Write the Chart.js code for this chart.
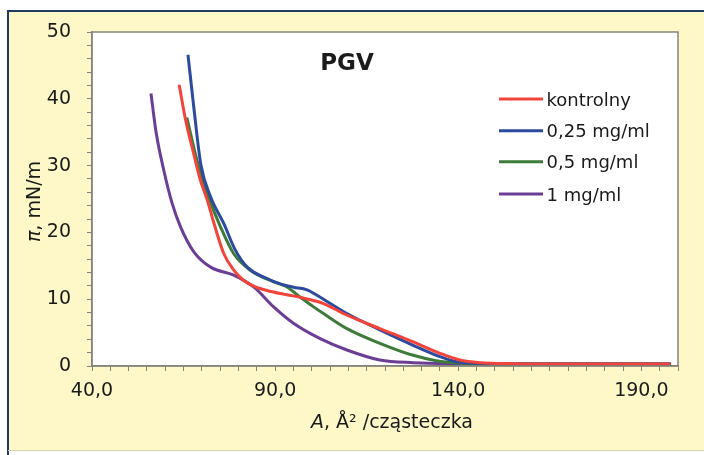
<!DOCTYPE html>
<html>
<head>
<meta charset="utf-8">
<script src="https://cdn.jsdelivr.net/npm/chart.js@4.4.1/dist/chart.umd.min.js"></script>
<style>
html,body{margin:0;padding:0;background:#ffffff;}
canvas{display:block;}
</style>
</head>
<body>
<canvas id="c" width="704" height="455"></canvas>
<script>
// ---- data ----
const chartTitle = "PGV";
const seriesNames = ["kontrolny", "0,25 mg/ml", "0,5 mg/ml", "1 mg/ml"];
const seriesColors = ["#f2443a", "#2c4a9e", "#3d7b39", "#6a3e95"];

const kontrolnyX = [63.8, 65.5, 67.8, 69.5, 71.5, 73.5, 76.0, 78.5, 81.4, 84.5, 87.8, 91.4, 95.0, 99.0, 103.2, 109.6, 118.6, 127.7, 135.0, 140.4, 145.9, 155, 170, 185, 198];
const kontrolnyY = [42.1, 37.0, 31.7, 28.0, 24.8, 21.0, 16.8, 14.5, 12.8, 11.9, 11.3, 10.85, 10.5, 10.0, 9.35, 7.6, 5.6, 3.6, 1.9, 0.9, 0.5, 0.35, 0.3, 0.3, 0.3];

const c025X = [66.2, 67.8, 69.7, 72.4, 76.0, 79.0, 82.4, 87.8, 91.4, 95.0, 98.7, 102.3, 109.6, 118.6, 127.7, 135.0, 139.5, 145, 160, 198];
const c025Y = [46.6, 38.7, 30.2, 25.3, 21.3, 17.5, 14.8, 13.1, 12.3, 11.8, 11.4, 10.3, 7.85, 5.4, 3.1, 1.4, 0.65, 0.4, 0.3, 0.3];

const c05X = [65.9, 68.7, 71.5, 75.1, 78.7, 83.3, 89.6, 93.0, 96.9, 100.5, 103.2, 109.6, 118.6, 127.7, 134.0, 140, 150, 198];
const c05Y = [37.2, 30.7, 25.8, 20.8, 16.8, 14.3, 12.6, 11.9, 10.3, 8.85, 7.85, 5.6, 3.4, 1.6, 0.8, 0.45, 0.3, 0.3];

const c1X = [56.1, 57.5, 59.6, 61.8, 64.2, 67.8, 72.4, 78.7, 84.2, 89.6, 95.0, 102.3, 109.6, 118.6, 127.7, 140, 160, 198];
const c1Y = [40.8, 35.0, 29.3, 24.5, 20.8, 17.1, 14.8, 13.6, 11.8, 8.85, 6.4, 4.1, 2.4, 0.9, 0.5, 0.35, 0.3, 0.3];

const xMin = 40, xMax = 200, xMajor = 50, xMinor = 5;
const yMin = 0, yMax = 50, yMajor = 10, yMinor = 2;
const xTitleItalic = "A";
const xTitleRest = ", Å² /cząsteczka";
const yTitleItalic = "π";
const yTitleRest = ", mN/m";

function pts(xs, ys){ return xs.map((x,i)=>({x:x, y:ys[i]})); }
const seriesData = [pts(kontrolnyX,kontrolnyY), pts(c025X,c025Y), pts(c05X,c05Y), pts(c1X,c1Y)];

const FONT = "'DejaVu Sans', sans-serif";
const AXIS_COL = "#85857a";

const decorPlugin = {
  id: 'decor',
  beforeDraw(chart){
    const ctx = chart.ctx, a = chart.chartArea;
    ctx.save();
    ctx.fillStyle = '#ffffff';
    ctx.fillRect(0,0,chart.width,chart.height);
    // yellow panel
    ctx.fillStyle = '#fef8c8';
    ctx.fillRect(8, 11, chart.width-8, 439);
    ctx.strokeStyle = '#1f3a5e';
    ctx.lineWidth = 2;
    ctx.beginPath();
    ctx.moveTo(8, 455); ctx.lineTo(8, 11); ctx.lineTo(chart.width, 11);
    ctx.stroke();
    ctx.strokeStyle = '#d8d4b0';
    ctx.lineWidth = 1;
    ctx.beginPath(); ctx.moveTo(8, 450.5); ctx.lineTo(chart.width, 450.5); ctx.stroke();
    // plot area
    ctx.fillStyle = '#ffffff';
    ctx.fillRect(a.left, a.top, a.right-a.left, a.bottom-a.top);
    ctx.restore();
  },
  afterDraw(chart){
    const ctx = chart.ctx, a = chart.chartArea;
    ctx.save();
    ctx.strokeStyle = AXIS_COL;
    ctx.lineWidth = 1.5;
    ctx.strokeRect(a.left, a.top, a.right-a.left, a.bottom-a.top);
    // title
    ctx.fillStyle = '#1a1a1a';
    ctx.font = "bold 23px " + FONT;
    ctx.textAlign = 'center';
    ctx.textBaseline = 'alphabetic';
    ctx.fillText(chartTitle, 347, 70);
    // x title
    ctx.font = "italic 19px " + FONT;
    const w1 = ctx.measureText(xTitleItalic).width;
    ctx.font = "19px " + FONT;
    const w2 = ctx.measureText(xTitleRest).width;
    let sx = 392 - (w1+w2)/2;
    ctx.textAlign = 'left';
    ctx.font = "italic 19px " + FONT;
    ctx.fillText(xTitleItalic, sx, 428);
    ctx.font = "19px " + FONT;
    ctx.fillText(xTitleRest, sx + w1, 428);
    // y title
    ctx.translate(40, 201.5);
    ctx.rotate(-Math.PI/2);
    ctx.font = "italic 19px " + FONT;
    const v1 = ctx.measureText(yTitleItalic).width;
    ctx.font = "19px " + FONT;
    const v2 = ctx.measureText(yTitleRest).width;
    let sy = -(v1+v2)/2;
    ctx.font = "italic 19px " + FONT;
    ctx.fillText(yTitleItalic, sy, 0);
    ctx.font = "19px " + FONT;
    ctx.fillText(yTitleRest, sy + v1, 0);
    ctx.setTransform(1,0,0,1,0,0);
    // legend
    const ly = [99, 130.7, 161.8, 194];
    ctx.font = "18px " + FONT;
    ctx.textAlign = 'left';
    ctx.textBaseline = 'alphabetic';
    seriesNames.forEach((n,i)=>{
      ctx.strokeStyle = seriesColors[i];
      ctx.lineWidth = 3;
      ctx.beginPath(); ctx.moveTo(499, ly[i]); ctx.lineTo(543, ly[i]); ctx.stroke();
      ctx.fillStyle = '#1a1a1a';
      ctx.fillText(n, 546.5, ly[i] + 6.5);
    });
    ctx.restore();
  }
};

new Chart(document.getElementById('c'), {
  type: 'line',
  data: {
    datasets: seriesData.map((d,i)=>({
      label: seriesNames[i],
      data: d,
      borderColor: seriesColors[i],
      backgroundColor: seriesColors[i],
      borderWidth: 3,
      pointRadius: 0,
      fill: false,
      cubicInterpolationMode: 'monotone'
    }))
  },
  options: {
    responsive: false,
    animation: false,
    devicePixelRatio: 1,
    layout: { padding: { left: 0, right: 26, top: 32, bottom: 0 } },
    plugins: { legend: { display: false }, title: { display: false }, tooltip: { enabled: false } },
    scales: {
      x: {
        type: 'linear',
        min: xMin, max: xMax,
        afterFit(s){ s.height = 89; },
        afterBuildTicks(s){
          const t = [];
          for (let v = xMin; v <= xMax + 1e-9; v += xMinor) t.push({value: v});
          s.ticks = t;
        },
        ticks: {
          autoSkip: false, maxRotation: 0, minRotation: 0,
          padding: 9,
          color: '#1a1a1a',
          font: { family: FONT, size: 19 },
          callback(v){ return ((v - xMin) % xMajor === 0) ? v.toFixed(1).replace('.', ',') : ''; }
        },
        grid: { drawOnChartArea: false, drawTicks: true, tickLength: 5, color: AXIS_COL, lineWidth: 1 },
        border: { display: true, color: AXIS_COL, width: 1.5 }
      },
      y: {
        type: 'linear',
        min: yMin, max: yMax,
        afterFit(s){ s.width = 92; },
        afterBuildTicks(s){
          const t = [];
          for (let v = yMin; v <= yMax + 1e-9; v += yMinor) t.push({value: v});
          s.ticks = t;
        },
        ticks: {
          autoSkip: false,
          padding: 16,
          color: '#1a1a1a',
          font: { family: FONT, size: 19 },
          callback(v){ return (v % yMajor === 0) ? String(v) : ''; }
        },
        grid: { drawOnChartArea: false, drawTicks: true, tickLength: 5, color: AXIS_COL, lineWidth: 1 },
        border: { display: true, color: AXIS_COL, width: 1.5 }
      }
    }
  },
  plugins: [decorPlugin]
});
</script>
</body>
</html>
